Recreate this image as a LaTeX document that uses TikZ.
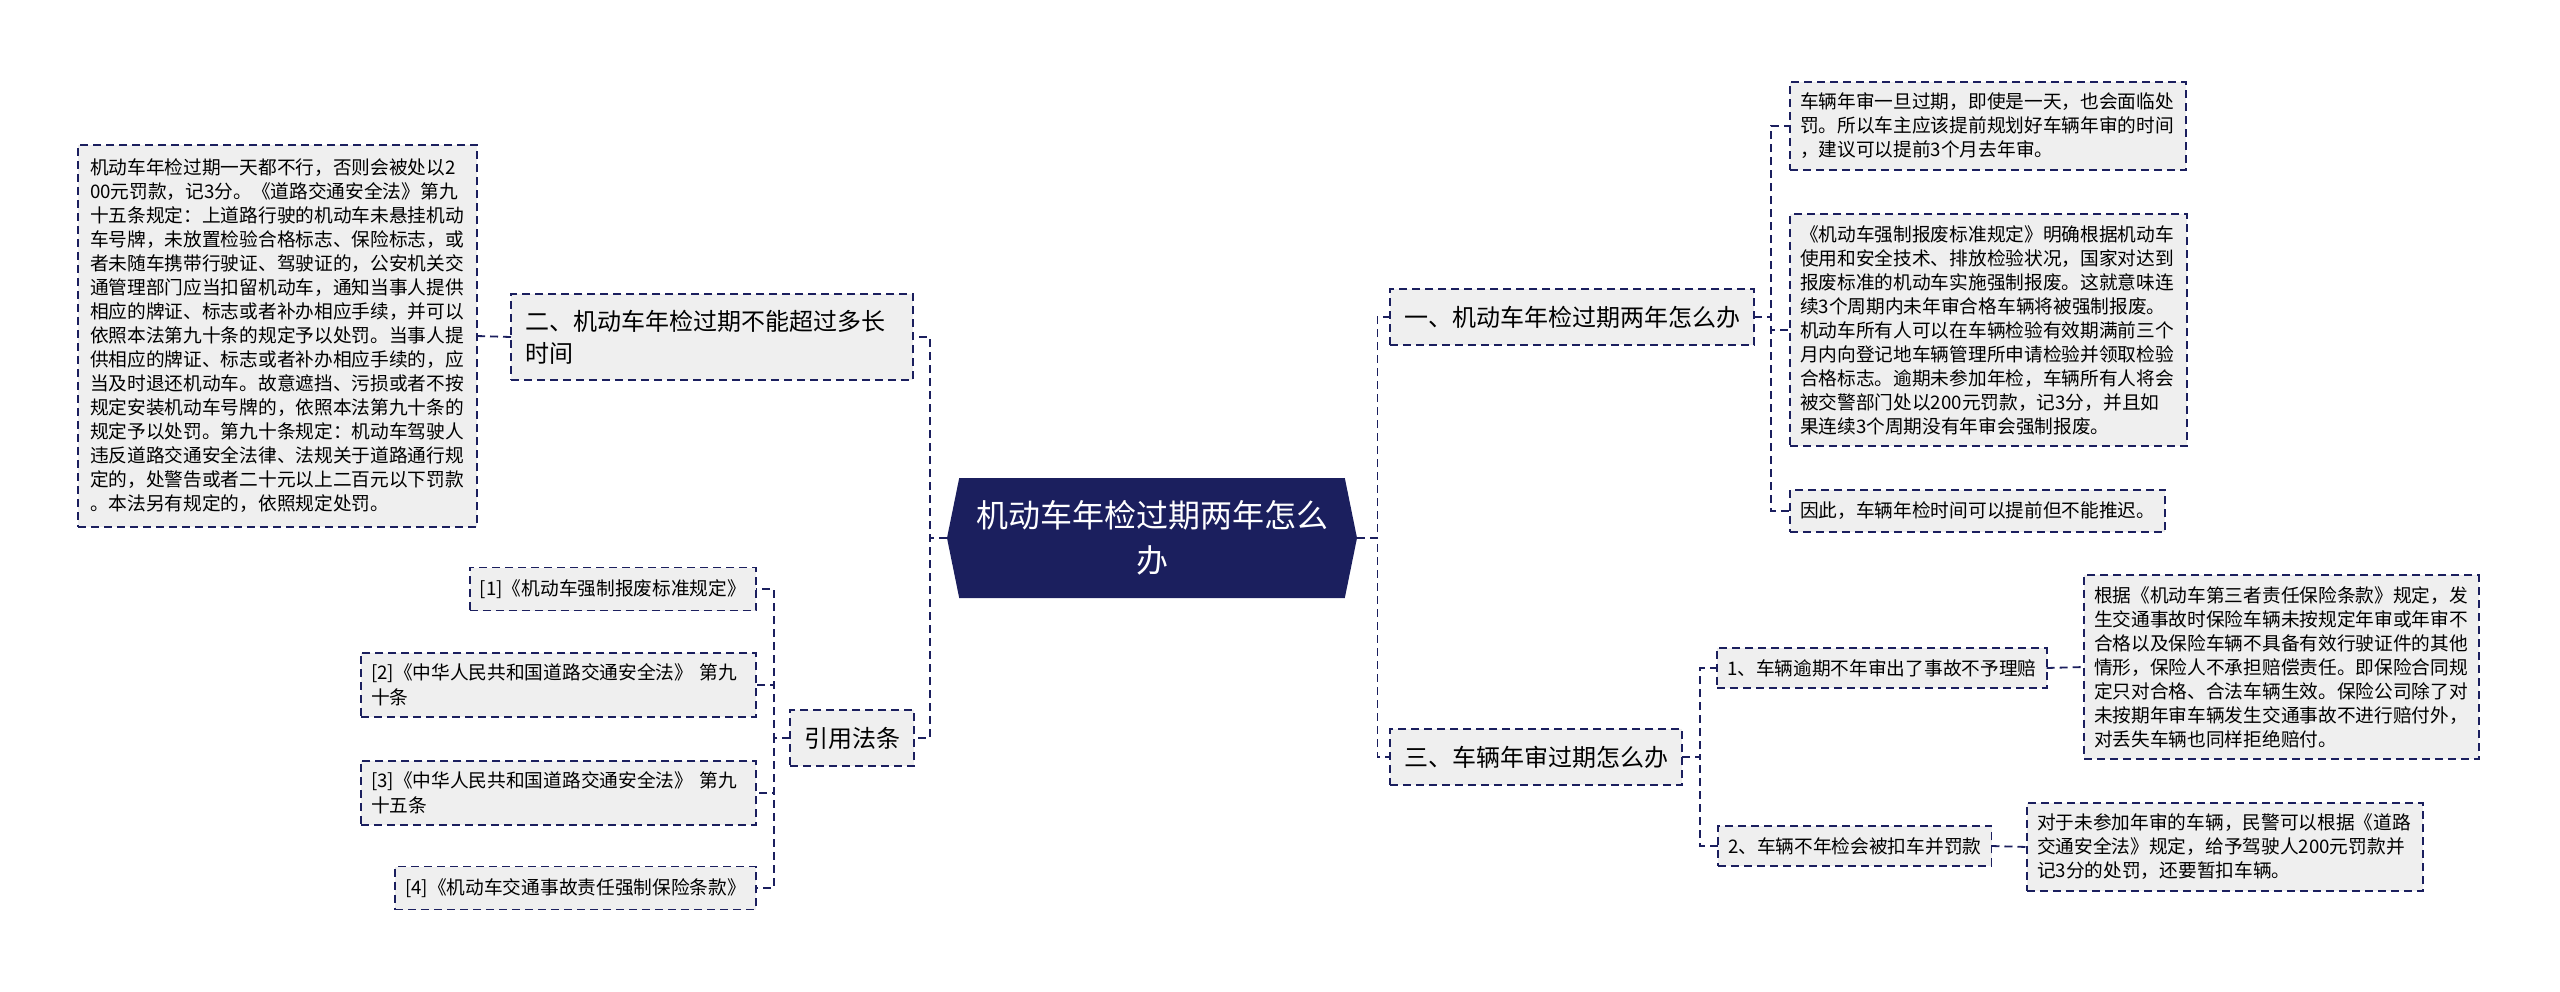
\documentclass[tikz,border=0pt]{standalone}
\usepackage{fontspec}
\newfontfamily\cjk{Noto Sans CJK SC}
\usepackage{tikz}
\usetikzlibrary{positioning,shapes.symbols}
\definecolor{marine}{HTML}{1B1F5E}
\definecolor{grisfond}{HTML}{EFEFEF}

\begin{document}
\begin{tikzpicture}[
  x=0.5pt, y=-0.5pt,
  font=\cjk,
  box/.style={draw=marine, line width=0.9pt, dash pattern=on 4pt off 2.5pt, fill=grisfond, inner xsep=5pt, inner ysep=5.5pt, outer sep=0pt},
  hub/.style={signal, signal to=west and east, signal pointer angle=157, fill=marine, text=white, align=center, inner sep=0pt, minimum width=205pt, minimum height=60pt, font=\cjk\fontsize{16}{22.5}\selectfont},
  topic/.style={box, inner xsep=7pt, inner ysep=0pt, minimum height=28pt, align=left, font=\cjk\fontsize{12}{16}\selectfont},
  sub/.style={box, inner ysep=0pt, minimum height=20pt, font=\cjk\fontsize{9.35}{12}\selectfont},
  leaf/.style={box, align=left, font=\cjk\fontsize{9.35}{12}\selectfont},
  link/.style={draw=marine, line width=0.9pt, dash pattern=on 4pt off 2.5pt}
]
\useasboundingbox (0,0) rectangle (2560,991);

\node[hub] (main) at (1152,538) {机动车年检过期两年怎么\\办};

% branches
\node[topic, anchor=west] (q1) at (1390,317) {一、机动车年检过期两年怎么办};
\node[topic, anchor=east, text width=187pt, minimum height=43pt] (q2) at (913,337) {二、机动车年检过期不能超过多长\\时间};
\node[topic, anchor=west] (q3) at (1390,757) {三、车辆年审过期怎么办};
\node[topic, anchor=east] (laws) at (914,738) {引用法条};

% one
\node[leaf, anchor=west, text width=188pt] (q1a) at (1790,126) {车辆年审一旦过期，即使是一天，也会面临处\\罚。所以车主应该提前规划好车辆年审的时间\\，建议可以提前3个月去年审。};
\node[leaf, anchor=west, text width=188.5pt] (q1b) at (1790,330) {《机动车强制报废标准规定》明确根据机动车\\使用和安全技术、排放检验状况，国家对达到\\报废标准的机动车实施强制报废。这就意味连\\续3个周期内未年审合格车辆将被强制报废。\\机动车所有人可以在车辆检验有效期满前三个\\月内向登记地车辆管理所申请检验并领取检验\\合格标志。逾期未参加年检，车辆所有人将会\\被交警部门处以200元罚款，记3分，并且如\\果连续3个周期没有年审会强制报废。};
\node[leaf, anchor=west, inner ysep=0pt, minimum height=21pt] (q1c) at (1790,511) {因此，车辆年检时间可以提前但不能推迟。};

% two
\node[leaf, anchor=east, inner xsep=6pt, text width=187.5pt, minimum height=191pt] (q2a) at (477,336) {机动车年检过期一天都不行，否则会被处以2\\00元罚款，记3分。《道路交通安全法》第九\\十五条规定：上道路行驶的机动车未悬挂机动\\车号牌，未放置检验合格标志、保险标志，或\\者未随车携带行驶证、驾驶证的，公安机关交\\通管理部门应当扣留机动车，通知当事人提供\\相应的牌证、标志或者补办相应手续，并可以\\依照本法第九十条的规定予以处罚。当事人提\\供相应的牌证、标志或者补办相应手续的，应\\当及时退还机动车。故意遮挡、污损或者不按\\规定安装机动车号牌的，依照本法第九十条的\\规定予以处罚。第九十条规定：机动车驾驶人\\违反道路交通安全法律、法规关于道路通行规\\定的，处警告或者二十元以上二百元以下罚款\\。本法另有规定的，依照规定处罚。};

% three
\node[sub, anchor=west] (q3a) at (1717,668) {1、车辆逾期不年审出了事故不予理赔};
\node[sub, anchor=west] (q3b) at (1718,846) {2、车辆不年检会被扣车并罚款};
\node[leaf, anchor=west, text width=187.5pt] (q3a1) at (2084,667) {根据《机动车第三者责任保险条款》规定，发\\生交通事故时保险车辆未按规定年审或年审不\\合格以及保险车辆不具备有效行驶证件的其他\\情形，保险人不承担赔偿责任。即保险合同规\\定只对合格、合法车辆生效。保险公司除了对\\未按期年审车辆发生交通事故不进行赔付外，\\对丢失车辆也同样拒绝赔付。};
\node[leaf, anchor=west, text width=188pt] (q3b1) at (2027,847) {对于未参加年审的车辆，民警可以根据《道路\\交通安全法》规定，给予驾驶人200元罚款并\\记3分的处罚，还要暂扣车辆。};

% references
\node[sub, anchor=east, minimum height=21.5pt] (law1) at (756,589) {[1]《机动车强制报废标准规定》};
\node[leaf, anchor=east, text width=187.5pt, font=\cjk\fontsize{9.35}{12.5}\selectfont] (law2) at (756,685) {[2]《中华人民共和国道路交通安全法》 第九\\十条};
\node[leaf, anchor=east, text width=187.5pt, font=\cjk\fontsize{9.35}{12.5}\selectfont] (law3) at (756,793) {[3]《中华人民共和国道路交通安全法》 第九\\十五条};
\node[sub, anchor=east, minimum height=21.5pt] (law4) at (756,888) {[4]《机动车交通事故责任强制保险条款》};

\draw[link] (main.west) -- ++(-17,0) |- (q2.east);
\draw[link] (main.west) -- ++(-17,0) |- (laws.east);
\draw[link] (main.east) -- ++(20,0) |- (q1.west);
\draw[link] (main.east) -- ++(20,0) |- (q3.west);
\draw[link] (q2.west) -- (q2a.east);
\draw[link] (q1.east) -- ++(17,0) |- (q1a.west);
\draw[link] (q1.east) -- ++(17,0) |- (q1b.west);
\draw[link] (q1.east) -- ++(17,0) |- (q1c.west);
\draw[link] (q3.east) -- ++(18,0) |- (q3a.west);
\draw[link] (q3.east) -- ++(18,0) |- (q3b.west);
\draw[link] (q3a.east) -- (q3a1.west);
\draw[link] (q3b.east) -- (q3b1.west);
\foreach \i in {1,...,4}
  \draw[link] (laws.west) -- ++(-16,0) |- (law\i.east);
\end{tikzpicture}
\end{document}
